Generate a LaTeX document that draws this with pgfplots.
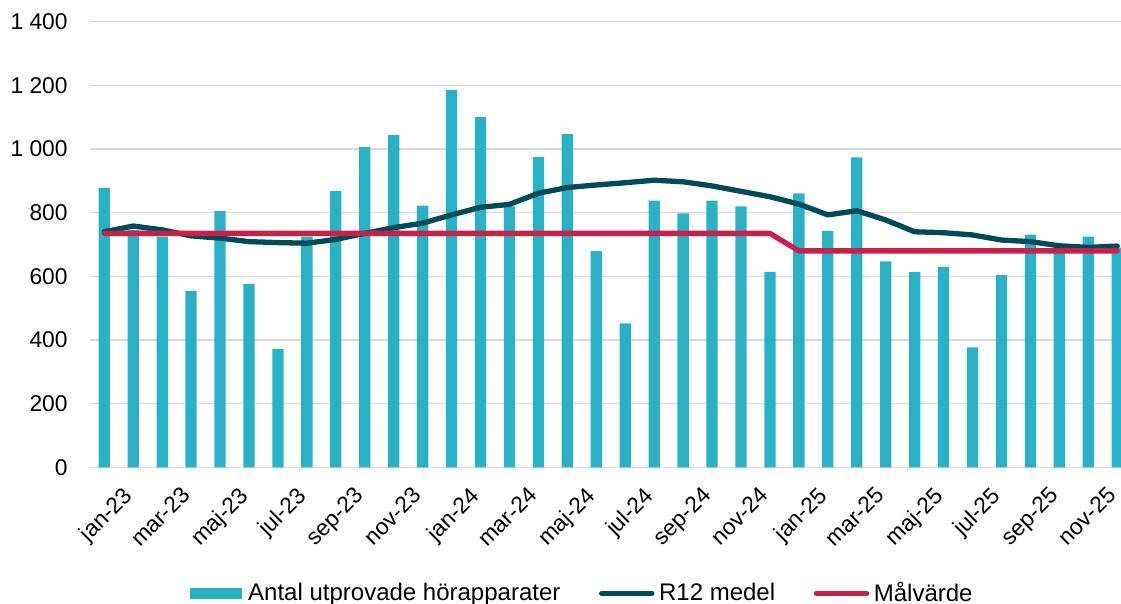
\documentclass[border=0pt]{standalone}
\usepackage{pgfplots}
\pgfplotsset{compat=1.18}
\usepackage{pgfplotstable}
\usepackage{fontspec}
\setmainfont{Liberation Sans}
\definecolor{barcol}{RGB}{41,178,198}
\definecolor{rtwelve}{RGB}{0,75,90}
\definecolor{goalred}{RGB}{200,32,72}
\definecolor{gridgray}{RGB}{217,217,217}

% month index, fitted hearing aids, rolling 12 mean, target
\pgfplotstableread{
x bars r12 goal
0 878 740 735
1 745 758 735
2 725 746 735
3 554 727 735
4 805 720 735
5 576 709 735
6 371 706 735
7 725 704 735
8 868 716 735
9 1006 735 735
10 1044 753 735
11 822 767 735
12 1186 793 735
13 1100 817 735
14 820 826 735
15 975 861 735
16 1047 879 735
17 679 887 735
18 452 894 735
19 838 902 735
20 798 897 735
21 838 884 735
22 820 867 735
23 614 850 735
24 861 827 680
25 743 793 680
26 974 806 680
27 647 777 680
28 613 740 680
29 630 737 680
30 377 730 680
31 604 714 680
32 731 709 680
33 685 696 680
34 725 691 680
35 690 695 680
}\monthdata

\begin{document}
\begin{tikzpicture}
\begin{axis}[
    name=ax,
    scale only axis, width=515.6pt, height=222.8pt,
    xmin=-0.5, xmax=35.13, ymin=0, ymax=1400,
    ytick={0,200,...,1400},
    xtick={0,2,...,34},
    xticklabels={jan-23,mar-23,maj-23,jul-23,sep-23,nov-23,jan-24,mar-24,maj-24,jul-24,sep-24,nov-24,jan-25,mar-25,maj-25,jul-25,sep-25,nov-25},
    axis line style={draw=none},
    major tick length=0pt,
    ymajorgrids, grid style={gridgray, line width=0.6pt},
    tick label style={font=\fontsize{11.4}{13}\selectfont, inner sep=0pt},
    yticklabel style={anchor=east, xshift=-10.9pt},
    xticklabel style={rotate=45, anchor=north east, xshift=0pt, yshift=-12.5pt},
    /pgf/number format/1000 sep={\ },
    /pgf/number format/assume math mode=true,
    legend columns=3,
    legend cell align=left,
    legend style={at={(0.097,-0.283)}, anchor=west, draw=none, fill=none,
        inner sep=0pt, font=\fontsize{12}{14}\selectfont,
        nodes={inner sep=1.5pt},
        /tikz/every odd column/.append style={column sep=0pt},
        /tikz/every even column/.append style={column sep=16.5pt}},
]
\addplot[ybar, bar width=0.39, fill=barcol, draw=none,
    legend image code/.code={\fill[barcol] (0pt,-2.9pt) rectangle (26pt,2.9pt); \path (27.5pt,0);}]
    table[x=x, y=bars] {\monthdata};
\addlegendentry{Antal utprovade hörapparater}
\addplot[rtwelve, line width=2.65pt, line join=round, line cap=round, mark=none,
    legend image code/.code={\draw[rtwelve, line width=2.65pt, line cap=round] (1.3pt,0) -- (26.4pt,0); \path (0,0) (27.2pt,0);}]
    table[x=x, y=r12] {\monthdata};
\addlegendentry{R12 medel}
\addplot[goalred, line width=2.65pt, line join=round, line cap=round, mark=none,
    legend image code/.code={\draw[goalred, line width=2.65pt, line cap=round] (1.3pt,0) -- (26.4pt,0); \path (0,0) (27.2pt,0);}]
    table[x=x, y=goal] {\monthdata};
\addlegendentry{Målvärde}
\end{axis}
\pgfresetboundingbox
\path[use as bounding box] ([xshift=-44.9pt,yshift=-68.35pt]ax.south west) rectangle ([yshift=10.85pt]ax.north east);
\end{tikzpicture}
\end{document}
